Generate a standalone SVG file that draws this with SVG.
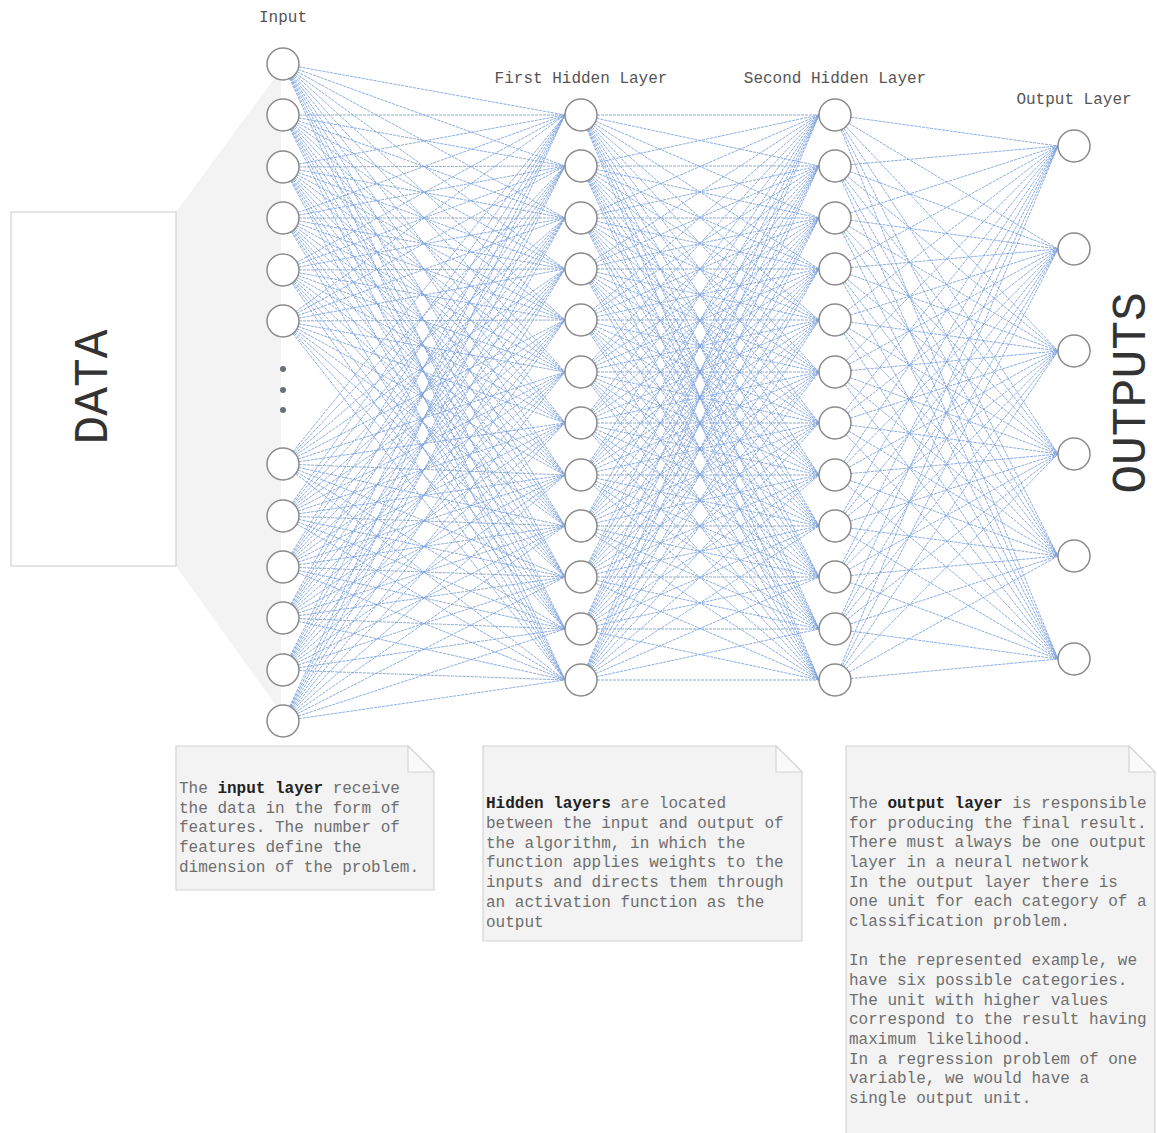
<svg xmlns="http://www.w3.org/2000/svg" width="1157" height="1133" viewBox="0 0 1157 1133">
  <style>
    .lbl { font-family: "Liberation Mono", "DejaVu Sans Mono", monospace; font-size: 16px; fill: #555; text-anchor: middle; }
    .big { font-family: "Liberation Mono", "DejaVu Sans Mono", monospace; font-size: 48px; fill: #333; text-anchor: middle; }
    .note { fill: #f3f3f3; stroke: #d4d4d4; stroke-width: 1.2; }
    .fold { fill: #fafafa; stroke: #d4d4d4; stroke-width: 1.2; }
    .txt { font-family: "Liberation Mono", "DejaVu Sans Mono", monospace; font-size: 16px; fill: #6e6e6e; }
    .b { font-weight: bold; fill: #222; }
    .node circle { fill: #fff; stroke: #8a8a8a; stroke-width: 1.5; }
    .node circle.dot { fill: #6a717c; stroke: none; }
    .edges path { fill: none; stroke: #7da2dd; stroke-width: 1; stroke-dasharray: 3 1; stroke-opacity: 0.9; }
  </style>

  <rect width="1157" height="1133" fill="#fff"/>

  <!-- shaded funnel from the data box to the input column -->
  <polygon points="176,212 276,76 281,76 281,707 277,707 176,566" fill="#f3f3f3"/>

  <!-- data source box -->
  <g id="data">
    <rect x="11" y="212" width="165" height="354" fill="#fff" stroke="#d2d2d2" stroke-width="1.2"/>
    <text class="big" x="107" y="387" transform="rotate(-90 107 387)">DATA</text>
  </g>

  <!-- layer titles -->
  <text class="lbl" x="283" y="22">Input</text>
  <text class="lbl" x="581" y="83">First Hidden Layer</text>
  <text class="lbl" x="835" y="83">Second Hidden Layer</text>
  <text class="lbl" x="1074" y="104">Output Layer</text>

  <!-- weights between layers -->
  <g id="connectors" class="edges">
    <!-- input -> first hidden -->
    <path d="M283 64L565 115M283 64L565 166M283 64L565 218M283 64L565 269M283 64L565 320M283 64L565 372M283 64L565 423M283 64L565 475M283 64L565 526M283 64L565 577M283 64L565 629M283 64L565 680"/>
    <path d="M283 115L565 115M283 115L565 166M283 115L565 218M283 115L565 269M283 115L565 320M283 115L565 372M283 115L565 423M283 115L565 475M283 115L565 526M283 115L565 577M283 115L565 629M283 115L565 680"/>
    <path d="M283 167L565 115M283 167L565 166M283 167L565 218M283 167L565 269M283 167L565 320M283 167L565 372M283 167L565 423M283 167L565 475M283 167L565 526M283 167L565 577M283 167L565 629M283 167L565 680"/>
    <path d="M283 218L565 115M283 218L565 166M283 218L565 218M283 218L565 269M283 218L565 320M283 218L565 372M283 218L565 423M283 218L565 475M283 218L565 526M283 218L565 577M283 218L565 629M283 218L565 680"/>
    <path d="M283 270L565 115M283 270L565 166M283 270L565 218M283 270L565 269M283 270L565 320M283 270L565 372M283 270L565 423M283 270L565 475M283 270L565 526M283 270L565 577M283 270L565 629M283 270L565 680"/>
    <path d="M283 321L565 115M283 321L565 166M283 321L565 218M283 321L565 269M283 321L565 320M283 321L565 372M283 321L565 423M283 321L565 475M283 321L565 526M283 321L565 577M283 321L565 629M283 321L565 680"/>
    <path d="M283 464L565 115M283 464L565 166M283 464L565 218M283 464L565 269M283 464L565 320M283 464L565 372M283 464L565 423M283 464L565 475M283 464L565 526M283 464L565 577M283 464L565 629M283 464L565 680"/>
    <path d="M283 516L565 115M283 516L565 166M283 516L565 218M283 516L565 269M283 516L565 320M283 516L565 372M283 516L565 423M283 516L565 475M283 516L565 526M283 516L565 577M283 516L565 629M283 516L565 680"/>
    <path d="M283 567L565 115M283 567L565 166M283 567L565 218M283 567L565 269M283 567L565 320M283 567L565 372M283 567L565 423M283 567L565 475M283 567L565 526M283 567L565 577M283 567L565 629M283 567L565 680"/>
    <path d="M283 618L565 115M283 618L565 166M283 618L565 218M283 618L565 269M283 618L565 320M283 618L565 372M283 618L565 423M283 618L565 475M283 618L565 526M283 618L565 577M283 618L565 629M283 618L565 680"/>
    <path d="M283 670L565 115M283 670L565 166M283 670L565 218M283 670L565 269M283 670L565 320M283 670L565 372M283 670L565 423M283 670L565 475M283 670L565 526M283 670L565 577M283 670L565 629M283 670L565 680"/>
    <path d="M283 721L565 115M283 721L565 166M283 721L565 218M283 721L565 269M283 721L565 320M283 721L565 372M283 721L565 423M283 721L565 475M283 721L565 526M283 721L565 577M283 721L565 629M283 721L565 680"/>
    <!-- first hidden -> second hidden -->
    <path d="M581 115L819 115M581 115L819 166M581 115L819 218M581 115L819 269M581 115L819 320M581 115L819 372M581 115L819 423M581 115L819 475M581 115L819 526M581 115L819 577M581 115L819 629M581 115L819 680"/>
    <path d="M581 166L819 115M581 166L819 166M581 166L819 218M581 166L819 269M581 166L819 320M581 166L819 372M581 166L819 423M581 166L819 475M581 166L819 526M581 166L819 577M581 166L819 629M581 166L819 680"/>
    <path d="M581 218L819 115M581 218L819 166M581 218L819 218M581 218L819 269M581 218L819 320M581 218L819 372M581 218L819 423M581 218L819 475M581 218L819 526M581 218L819 577M581 218L819 629M581 218L819 680"/>
    <path d="M581 269L819 115M581 269L819 166M581 269L819 218M581 269L819 269M581 269L819 320M581 269L819 372M581 269L819 423M581 269L819 475M581 269L819 526M581 269L819 577M581 269L819 629M581 269L819 680"/>
    <path d="M581 320L819 115M581 320L819 166M581 320L819 218M581 320L819 269M581 320L819 320M581 320L819 372M581 320L819 423M581 320L819 475M581 320L819 526M581 320L819 577M581 320L819 629M581 320L819 680"/>
    <path d="M581 372L819 115M581 372L819 166M581 372L819 218M581 372L819 269M581 372L819 320M581 372L819 372M581 372L819 423M581 372L819 475M581 372L819 526M581 372L819 577M581 372L819 629M581 372L819 680"/>
    <path d="M581 423L819 115M581 423L819 166M581 423L819 218M581 423L819 269M581 423L819 320M581 423L819 372M581 423L819 423M581 423L819 475M581 423L819 526M581 423L819 577M581 423L819 629M581 423L819 680"/>
    <path d="M581 475L819 115M581 475L819 166M581 475L819 218M581 475L819 269M581 475L819 320M581 475L819 372M581 475L819 423M581 475L819 475M581 475L819 526M581 475L819 577M581 475L819 629M581 475L819 680"/>
    <path d="M581 526L819 115M581 526L819 166M581 526L819 218M581 526L819 269M581 526L819 320M581 526L819 372M581 526L819 423M581 526L819 475M581 526L819 526M581 526L819 577M581 526L819 629M581 526L819 680"/>
    <path d="M581 577L819 115M581 577L819 166M581 577L819 218M581 577L819 269M581 577L819 320M581 577L819 372M581 577L819 423M581 577L819 475M581 577L819 526M581 577L819 577M581 577L819 629M581 577L819 680"/>
    <path d="M581 629L819 115M581 629L819 166M581 629L819 218M581 629L819 269M581 629L819 320M581 629L819 372M581 629L819 423M581 629L819 475M581 629L819 526M581 629L819 577M581 629L819 629M581 629L819 680"/>
    <path d="M581 680L819 115M581 680L819 166M581 680L819 218M581 680L819 269M581 680L819 320M581 680L819 372M581 680L819 423M581 680L819 475M581 680L819 526M581 680L819 577M581 680L819 629M581 680L819 680"/>
    <!-- second hidden -> output -->
    <path d="M835 115L1058 146M835 115L1058 249M835 115L1058 351M835 115L1058 454M835 115L1058 556M835 115L1058 659"/>
    <path d="M835 166L1058 146M835 166L1058 249M835 166L1058 351M835 166L1058 454M835 166L1058 556M835 166L1058 659"/>
    <path d="M835 218L1058 146M835 218L1058 249M835 218L1058 351M835 218L1058 454M835 218L1058 556M835 218L1058 659"/>
    <path d="M835 269L1058 146M835 269L1058 249M835 269L1058 351M835 269L1058 454M835 269L1058 556M835 269L1058 659"/>
    <path d="M835 320L1058 146M835 320L1058 249M835 320L1058 351M835 320L1058 454M835 320L1058 556M835 320L1058 659"/>
    <path d="M835 372L1058 146M835 372L1058 249M835 372L1058 351M835 372L1058 454M835 372L1058 556M835 372L1058 659"/>
    <path d="M835 423L1058 146M835 423L1058 249M835 423L1058 351M835 423L1058 454M835 423L1058 556M835 423L1058 659"/>
    <path d="M835 475L1058 146M835 475L1058 249M835 475L1058 351M835 475L1058 454M835 475L1058 556M835 475L1058 659"/>
    <path d="M835 526L1058 146M835 526L1058 249M835 526L1058 351M835 526L1058 454M835 526L1058 556M835 526L1058 659"/>
    <path d="M835 577L1058 146M835 577L1058 249M835 577L1058 351M835 577L1058 454M835 577L1058 556M835 577L1058 659"/>
    <path d="M835 629L1058 146M835 629L1058 249M835 629L1058 351M835 629L1058 454M835 629L1058 556M835 629L1058 659"/>
    <path d="M835 680L1058 146M835 680L1058 249M835 680L1058 351M835 680L1058 454M835 680L1058 556M835 680L1058 659"/>
  </g>

  <!-- input layer -->
  <g id="input-layer" class="node">
    <circle cx="283" cy="64" r="16"/>
    <circle cx="283" cy="115" r="16"/>
    <circle cx="283" cy="167" r="16"/>
    <circle cx="283" cy="218" r="16"/>
    <circle cx="283" cy="270" r="16"/>
    <circle cx="283" cy="321" r="16"/>
    <circle class="dot" cx="283" cy="369" r="3"/>
    <circle class="dot" cx="283" cy="390" r="3"/>
    <circle class="dot" cx="283" cy="410" r="3"/>
    <circle cx="283" cy="464" r="16"/>
    <circle cx="283" cy="516" r="16"/>
    <circle cx="283" cy="567" r="16"/>
    <circle cx="283" cy="618" r="16"/>
    <circle cx="283" cy="670" r="16"/>
    <circle cx="283" cy="721" r="16"/>
  </g>

  <!-- first hidden layer -->
  <g id="hidden-layer-1" class="node">
    <circle cx="581" cy="115" r="16"/>
    <circle cx="581" cy="166" r="16"/>
    <circle cx="581" cy="218" r="16"/>
    <circle cx="581" cy="269" r="16"/>
    <circle cx="581" cy="320" r="16"/>
    <circle cx="581" cy="372" r="16"/>
    <circle cx="581" cy="423" r="16"/>
    <circle cx="581" cy="475" r="16"/>
    <circle cx="581" cy="526" r="16"/>
    <circle cx="581" cy="577" r="16"/>
    <circle cx="581" cy="629" r="16"/>
    <circle cx="581" cy="680" r="16"/>
  </g>

  <!-- second hidden layer -->
  <g id="hidden-layer-2" class="node">
    <circle cx="835" cy="115" r="16"/>
    <circle cx="835" cy="166" r="16"/>
    <circle cx="835" cy="218" r="16"/>
    <circle cx="835" cy="269" r="16"/>
    <circle cx="835" cy="320" r="16"/>
    <circle cx="835" cy="372" r="16"/>
    <circle cx="835" cy="423" r="16"/>
    <circle cx="835" cy="475" r="16"/>
    <circle cx="835" cy="526" r="16"/>
    <circle cx="835" cy="577" r="16"/>
    <circle cx="835" cy="629" r="16"/>
    <circle cx="835" cy="680" r="16"/>
  </g>

  <!-- output layer -->
  <g id="output-layer" class="node">
    <circle cx="1074" cy="146" r="16"/>
    <circle cx="1074" cy="249" r="16"/>
    <circle cx="1074" cy="351" r="16"/>
    <circle cx="1074" cy="454" r="16"/>
    <circle cx="1074" cy="556" r="16"/>
    <circle cx="1074" cy="659" r="16"/>
  </g>

  <g id="outputs">
    <text class="big" x="1145" y="393" transform="rotate(-90 1145 393)">OUTPUTS</text>
  </g>

  <!-- explanatory notes -->
  <g id="note-input">
    <path class="note" d="M176 746H408L434 772V890H176Z"/>
    <path class="fold" d="M408 746V772H434Z"/>
    <text class="txt" x="179" y="793">The <tspan class="b">input layer</tspan> receive</text>
    <text class="txt" x="179" y="813">the data in the form of</text>
    <text class="txt" x="179" y="832">features. The number of</text>
    <text class="txt" x="179" y="852">features define the</text>
    <text class="txt" x="179" y="872">dimension of the problem.</text>
  </g>

  <g id="note-hidden">
    <path class="note" d="M483 746H776L802 772V941H483Z"/>
    <path class="fold" d="M776 746V772H802Z"/>
    <text class="txt" x="486" y="808"><tspan class="b">Hidden layers</tspan> are located</text>
    <text class="txt" x="486" y="828">between the input and output of</text>
    <text class="txt" x="486" y="848">the algorithm, in which the</text>
    <text class="txt" x="486" y="867">function applies weights to the</text>
    <text class="txt" x="486" y="887">inputs and directs them through</text>
    <text class="txt" x="486" y="907">an activation function as the</text>
    <text class="txt" x="486" y="927">output</text>
  </g>

  <g id="note-output">
    <path class="note" d="M846 1140V746H1129L1155 772V1140"/>
    <path class="fold" d="M1129 746V772H1155Z"/>
    <text class="txt" x="849" y="808">The <tspan class="b">output layer</tspan> is responsible</text>
    <text class="txt" x="849" y="828">for producing the final result.</text>
    <text class="txt" x="849" y="847">There must always be one output</text>
    <text class="txt" x="849" y="867">layer in a neural network</text>
    <text class="txt" x="849" y="887">In the output layer there is</text>
    <text class="txt" x="849" y="906">one unit for each category of a</text>
    <text class="txt" x="849" y="926">classification problem.</text>
    <text class="txt" x="849" y="965">In the represented example, we</text>
    <text class="txt" x="849" y="985">have six possible categories.</text>
    <text class="txt" x="849" y="1005">The unit with higher values</text>
    <text class="txt" x="849" y="1024">correspond to the result having</text>
    <text class="txt" x="849" y="1044">maximum likelihood.</text>
    <text class="txt" x="849" y="1064">In a regression problem of one</text>
    <text class="txt" x="849" y="1083">variable, we would have a</text>
    <text class="txt" x="849" y="1103">single output unit.</text>
  </g>
</svg>
